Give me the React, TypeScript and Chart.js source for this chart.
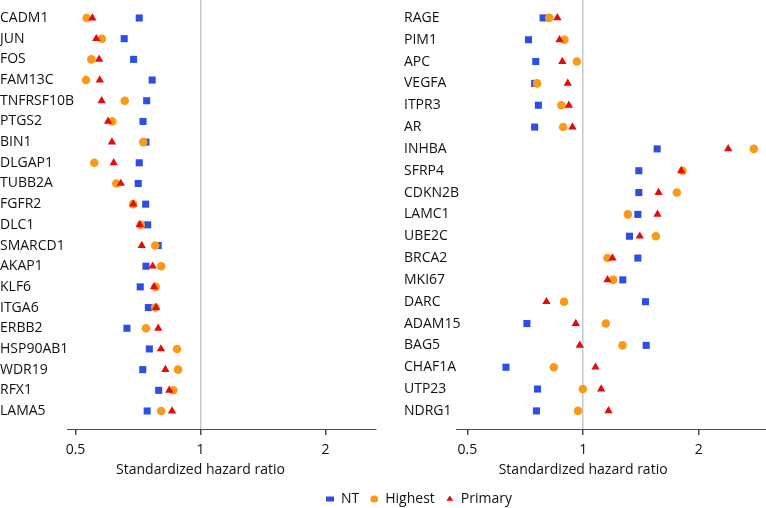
import React, { useEffect, useRef } from 'react';
import { Chart, registerables } from 'chart.js';

Chart.register(...registerables);

const FONT = "'Open Sans', sans-serif";
const TEXT = '#111111';
const BLUE = '#2b4fe6';
const ORANGE = '#fa9a16';
const RED = '#e60a0a';

const AXIS_TITLE = 'Standardized hazard ratio';
const X_TICKS = [0.5, 1, 2];
const SERIES = ['NT', 'Highest', 'Primary'];

const leftGenes = ['CADM1', 'JUN', 'FOS', 'FAM13C', 'TNFRSF10B', 'PTGS2', 'BIN1', 'DLGAP1', 'TUBB2A', 'FGFR2', 'DLC1', 'SMARCD1', 'AKAP1', 'KLF6', 'ITGA6', 'ERBB2', 'HSP90AB1', 'WDR19', 'RFX1', 'LAMA5'];
const leftNT = [0.712, 0.655, 0.690, 0.765, 0.742, 0.727, 0.739, 0.712, 0.708, 0.738, 0.746, 0.791, 0.739, 0.716, 0.749, 0.665, 0.753, 0.726, 0.793, 0.744];
const leftHighest = [0.532, 0.579, 0.546, 0.530, 0.657, 0.613, 0.728, 0.555, 0.627, 0.688, 0.718, 0.778, 0.804, 0.780, 0.778, 0.739, 0.878, 0.883, 0.860, 0.804];
const leftPrimary = [0.549, 0.561, 0.570, 0.572, 0.578, 0.599, 0.612, 0.618, 0.643, 0.689, 0.714, 0.722, 0.767, 0.773, 0.782, 0.791, 0.803, 0.823, 0.841, 0.854];

const rightGenes = ['RAGE', 'PIM1', 'APC', 'VEGFA', 'ITPR3', 'AR', 'INHBA', 'SFRP4', 'CDKN2B', 'LAMC1', 'UBE2C', 'BRCA2', 'MKI67', 'DARC', 'ADAM15', 'BAG5', 'CHAF1A', 'UTP23', 'NDRG1'];
const rightNT = [0.787, 0.721, 0.753, 0.748, 0.765, 0.748, 1.558, 1.396, 1.396, 1.388, 1.320, 1.388, 1.268, 1.453, 0.714, 1.459, 0.630, 0.761, 0.756];
const rightHighest = [0.816, 0.894, 0.963, 0.759, 0.878, 0.887, 2.78, 1.813, 1.753, 1.307, 1.546, 1.157, 1.197, 0.892, 1.146, 1.266, 0.839, 0.998, 0.970];
const rightPrimary = [0.857, 0.868, 0.883, 0.912, 0.918, 0.938, 2.384, 1.80, 1.571, 1.561, 1.404, 1.192, 1.157, 0.803, 0.957, 0.980, 1.077, 1.114, 1.164];

const TITLE_Y = 470;

const titlePlugin = {
  id: 'hrTitle',
  afterDraw(chart: any) {
    const sx = chart.scales.x;
    const ctx = chart.ctx;
    ctx.save();
    ctx.font = `14px ${FONT}`;
    ctx.fillStyle = TEXT;
    ctx.textAlign = 'center';
    ctx.textBaseline = 'middle';
    ctx.fillText(AXIS_TITLE, sx.getPixelForValue(1), TITLE_Y);
    ctx.restore();
  },
};

function toPoints(vals: number[]) {
  return vals.map((v, i) => ({ x: v, y: i }));
}

function panelConfig(
  genes: string[],
  nt: number[],
  hi: number[],
  pr: number[],
  o: { xmin: number; xmax: number; ymin: number; ymax: number; padLeft: number; padRight: number; yWidth: number }
): any {
  return {
    type: 'scatter',
    data: {
      datasets: [
        { label: SERIES[2], data: toPoints(pr), pointStyle: 'triangle', pointRadius: 4.8, backgroundColor: RED, borderColor: RED, borderWidth: 0 },
        { label: SERIES[1], data: toPoints(hi), pointStyle: 'circle', pointRadius: 4.3, backgroundColor: ORANGE, borderColor: ORANGE, borderWidth: 0 },
        { label: SERIES[0], data: toPoints(nt), pointStyle: 'rect', pointRadius: 5, backgroundColor: BLUE, borderColor: BLUE, borderWidth: 0 },
      ],
    },
    options: {
      animation: false,
      responsive: false,
      maintainAspectRatio: false,
      clip: false,
      layout: { autoPadding: false, padding: { left: o.padLeft, right: o.padRight, top: 0, bottom: 0 } },
      plugins: { legend: { display: false }, tooltip: { enabled: false } },
      scales: {
        x: {
          type: 'logarithmic',
          min: o.xmin,
          max: o.xmax,
          afterBuildTicks: (s: any) => {
            s.ticks = X_TICKS.map((v) => ({ value: v }));
          },
          afterFit: (s: any) => {
            s.height = 79;
            s.paddingLeft = 0;
            s.paddingRight = 0;
          },
          ticks: {
            callback: (v: any) => String(v),
            font: { family: FONT, size: 14 },
            color: TEXT,
            padding: 7,
            autoSkip: false,
            maxRotation: 0,
          },
          grid: {
            color: (ctx: any) => (ctx.tick && ctx.tick.value === 1 ? '#bfcccc' : 'rgba(0,0,0,0)'),
            lineWidth: 1.5,
            tickColor: '#4a4a4a',
            tickLength: 6,
          },
          border: { display: true, color: '#4a4a4a', width: 1 },
        },
        y: {
          type: 'linear',
          reverse: true,
          min: o.ymin,
          max: o.ymax,
          afterBuildTicks: (s: any) => {
            s.ticks = genes.map((_, i) => ({ value: i }));
          },
          afterFit: (s: any) => {
            s.width = o.yWidth;
            s.paddingTop = 0;
            s.paddingBottom = 0;
          },
          ticks: {
            callback: (v: any) => genes[v],
            mirror: true,
            crossAlign: 'near',
            padding: -o.yWidth,
            autoSkip: false,
            font: { family: FONT, size: 14 },
            color: TEXT,
          },
          grid: { display: false },
          border: { display: false },
        },
      },
    },
    plugins: [titlePlugin],
  };
}

export default function App() {
  const leftRef = useRef<HTMLCanvasElement>(null);
  const rightRef = useRef<HTMLCanvasElement>(null);
  const legendRef = useRef<HTMLCanvasElement>(null);

  useEffect(() => {
    document.body.style.margin = '0';
    const charts: Chart[] = [];
    if (leftRef.current) {
      charts.push(
        new Chart(
          leftRef.current,
          panelConfig(leftGenes, leftNT, leftHighest, leftPrimary, {
            xmin: 0.477, xmax: 2.646, ymin: -0.87, ymax: 19.87, padLeft: 0, padRight: 7, yWidth: 67,
          })
        )
      );
    }
    if (rightRef.current) {
      charts.push(
        new Chart(
          rightRef.current,
          panelConfig(rightGenes, rightNT, rightHighest, rightPrimary, {
            xmin: 0.467, xmax: 2.99, ymin: -0.82, ymax: 18.83, padLeft: 21, padRight: 0, yWidth: 52,
          })
        )
      );
    }
    if (legendRef.current) {
      charts.push(
        new Chart(legendRef.current, {
          type: 'scatter',
          data: {
            datasets: [
              { label: SERIES[0], data: [], pointStyle: 'rect', backgroundColor: BLUE, borderColor: BLUE, borderWidth: 0 },
              { label: SERIES[1], data: [], pointStyle: 'circle', backgroundColor: ORANGE, borderColor: ORANGE, borderWidth: 0 },
              { label: SERIES[2], data: [], pointStyle: 'triangle', backgroundColor: RED, borderColor: RED, borderWidth: 0 },
            ],
          },
          options: {
            animation: false,
            responsive: false,
            maintainAspectRatio: false,
            layout: { padding: { left: 315, top: 13 } },
            plugins: {
              tooltip: { enabled: false },
              legend: {
                position: 'top',
                align: 'start',
                labels: {
                  usePointStyle: true,
                  boxWidth: 8,
                  pointStyleWidth: 8,
                  boxHeight: 5,
                  padding: 11,
                  font: { family: FONT, size: 14 },
                  color: TEXT,
                },
              },
            },
            scales: { x: { display: false }, y: { display: false } },
          },
        } as any)
      );
    }
    return () => {
      charts.forEach((c) => c.destroy());
    };
  }, []);

  return (
    <div style={{ position: 'relative', width: 766, height: 508, background: '#fff', overflow: 'hidden' }}>
      <canvas ref={leftRef} width={383} height={508} style={{ position: 'absolute', left: 0, top: 0, display: 'block' }} />
      <canvas ref={rightRef} width={383} height={508} style={{ position: 'absolute', left: 383, top: 0, display: 'block' }} />
      <canvas ref={legendRef} width={766} height={100} style={{ position: 'absolute', left: 0, top: 468, display: 'block', pointerEvents: 'none' }} />
    </div>
  );
}
